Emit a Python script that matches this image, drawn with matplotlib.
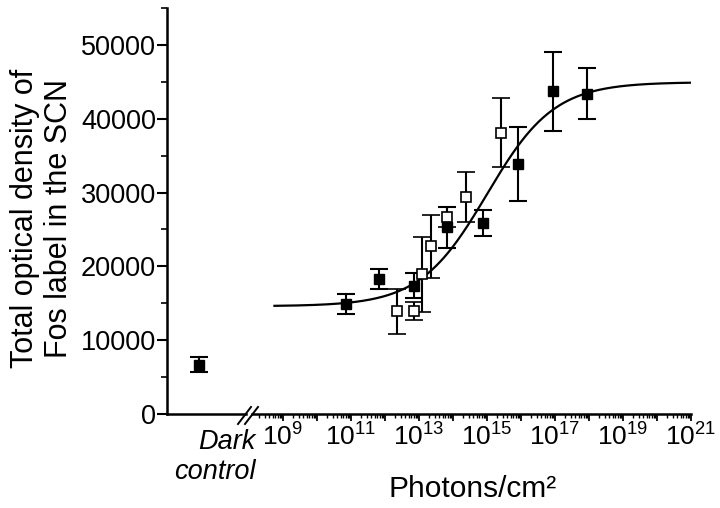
import numpy as np
import matplotlib
matplotlib.use("Agg")
import matplotlib.pyplot as plt
from matplotlib.ticker import FixedLocator, LogLocator, NullFormatter, FuncFormatter, MultipleLocator
from matplotlib.lines import Line2D

plt.rcParams["font.family"] = ["Liberation Sans", "DejaVu Sans"]
plt.rcParams["mathtext.fontset"] = "custom"
plt.rcParams["mathtext.rm"] = "Liberation Sans"
plt.rcParams["mathtext.it"] = "Liberation Sans:italic"

# ==============================
# Data
# ==============================
dark_value = 6700
dark_err = 1050

# filled squares
filled_photons = [7.1e10, 6.8e11, 7.2e12, 6.9e13, 7.8e14, 8.3e15, 8.5e16, 8.5e17]
filled_value = [14900, 18300, 17400, 25300, 25900, 33900, 43700, 43400]
filled_err = [1400, 1400, 1700, 2800, 1800, 5000, 5300, 3500]

# open squares
open_photons = [2.3e12, 7.2e12, 1.2e13, 2.2e13, 6.9e13, 2.5e14, 2.6e15]
open_value = [13900, 14000, 18900, 22700, 26700, 29400, 38100]
open_err = [3100, 1200, 5100, 4300, 1350, 3400, 4700]

# fitted sigmoid (bottom, top, log EC50, Hill slope)
fit_bottom = 14600
fit_top = 44950
fit_logec50 = 15.0
fit_hill = 0.44

y_ticks = [0, 10000, 20000, 30000, 40000, 50000]
x_label_exps = [9, 11, 13, 15, 17, 19, 21]

# ==============================
# Figure layout
# ==============================
W, H = 720, 508
fig = plt.figure(figsize=(7.2, 5.08), dpi=100)

x0_left, x1_left = 167, 246
x0_right, x1_right = 252, 691
y_bot, y_top = 414, 8
bottom = (H - y_bot) / H
height = (y_bot - y_top) / H

axL = fig.add_axes([x0_left / W, bottom, (x1_left - x0_left) / W, height])
axR = fig.add_axes([x0_right / W, bottom, (x1_right - x0_right) / W, height], sharey=axL)

lw_axis = 1.8
for ax in (axL, axR):
    ax.spines["top"].set_visible(False)
    ax.spines["right"].set_visible(False)
    ax.spines["bottom"].set_linewidth(lw_axis)
    ax.spines["left"].set_linewidth(lw_axis)
    ax.patch.set_alpha(0)
axR.spines["left"].set_visible(False)

ebar_kw = dict(fmt="s", color="black", ecolor="black", elinewidth=1.5,
               capsize=6.5, capthick=1.5, markersize=6.5, zorder=3)

# dark control
axL.errorbar([0.41], [dark_value], yerr=[dark_err], markerfacecolor="black", **ebar_kw)
axL.set_xlim(0, 1)
axL.set_ylim(0, 55000)
axL.set_xticks([])
axL.yaxis.set_major_locator(FixedLocator(y_ticks))
axL.yaxis.set_minor_locator(MultipleLocator(5000))
axL.tick_params(axis="y", which="major", length=7, width=1.5, labelsize=19.5, pad=1)
axL.tick_params(axis="y", which="minor", length=4, width=1.2)

# fitted curve
xs = np.linspace(8.75, 21, 400)
ys = fit_bottom + (fit_top - fit_bottom) / (1 + 10 ** ((fit_logec50 - xs) * fit_hill))
axR.plot(10 ** xs, ys, color="black", lw=1.6, zorder=2)

axR.errorbar(open_photons, open_value, yerr=open_err, markerfacecolor="white",
             markeredgewidth=1.2, **ebar_kw)
axR.errorbar(filled_photons, filled_value, yerr=filled_err, markerfacecolor="black", **ebar_kw)

axR.set_xscale("log")
axR.set_xlim(10 ** 8.09, 1e21)
axR.xaxis.set_major_locator(FixedLocator([10.0 ** e for e in range(9, 22)]))
axR.xaxis.set_minor_locator(LogLocator(base=10, subs=np.arange(2, 10), numticks=40))
axR.xaxis.set_minor_formatter(NullFormatter())


def fmt_exp(v, pos):
    e = int(round(np.log10(v)))
    return r"$\mathregular{10^{%d}}$" % e if e in x_label_exps else ""


axR.xaxis.set_major_formatter(FuncFormatter(fmt_exp))
axR.tick_params(axis="x", which="major", length=5, width=1.3, labelsize=19, pad=2)
axR.tick_params(axis="x", which="minor", length=3, width=1.0)
axR.tick_params(axis="y", which="both", left=False, labelleft=False)

# axis break marks
for dx in (0, 7):
    fig.add_artist(Line2D([(238 + dx) / W, (251 + dx) / W],
                          [(H - 424) / H, (H - 407) / H],
                          transform=fig.transFigure, color="black", lw=1.4))

# labels
fig.text(256 / W, 1 - 457 / H, "Dark\ncontrol", ha="right", va="center",
         fontsize=19.5, style="italic", multialignment="right", linespacing=1.2)
fig.text(473 / W, 1 - 489 / H, "Photons/cm\u00b2", ha="center", va="center", fontsize=21.5)
fig.text(42 / W, 1 - 218 / H, "Total optical density of\nFos label in the SCN",
         rotation=90, ha="center", va="center", fontsize=22, linespacing=1.15)

plt.savefig("out.png", dpi=100)
